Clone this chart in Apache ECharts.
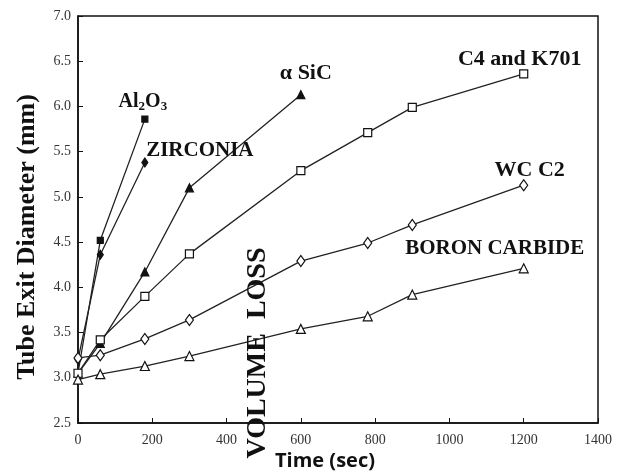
<!DOCTYPE html>
<html>
<head>
<meta charset="utf-8">
<script src="https://cdn.jsdelivr.net/npm/echarts@6/dist/echarts.min.js"></script>
<style>html,body{margin:0;padding:0;background:#fff;}#c{width:622px;height:476px;}</style>
</head>
<body>
<div id="c"></div>
<script>
// ---- data ----
const xTicks = [0, 200, 400, 600, 800, 1000, 1200, 1400];
const yTicks = [2.5, 3.0, 3.5, 4.0, 4.5, 5.0, 5.5, 6.0, 6.5, 7.0];

const al2o3Time = [0, 60, 180];
const al2o3Dia  = [3.05, 4.52, 5.86];

const zirconiaTime = [0, 60, 180];
const zirconiaDia  = [3.20, 4.36, 5.38];

const sicTime = [0, 60, 180, 300, 600];
const sicDia  = [3.05, 3.38, 4.17, 5.10, 6.13];

const c4Time = [0, 60, 180, 300, 600, 780, 900, 1200];
const c4Dia  = [3.05, 3.42, 3.90, 4.37, 5.29, 5.71, 5.99, 6.36];

const wcTime = [0, 60, 180, 300, 600, 780, 900, 1200];
const wcDia  = [3.22, 3.25, 3.43, 3.64, 4.29, 4.49, 4.69, 5.13];

const boronTime = [0, 60, 180, 300, 600, 780, 900, 1200];
const boronDia  = [2.98, 3.04, 3.13, 3.24, 3.54, 3.68, 3.92, 4.21];

const seriesNames = ['Al2O3', 'ZIRCONIA', 'α SiC', 'C4 and K701', 'WC C2', 'BORON CARBIDE'];

// ---- build ----
const serifFont = '"Liberation Serif", "Times New Roman", serif';
function pairs(t, v) { return t.map((x, i) => [x, v[i]]); }

function makeSeries(name, t, v, symbol, size, filled, labelText, offset, labelSize, rich) {
  const data = pairs(t, v).map((p, i, arr) => {
    if (i === arr.length - 1) {
      return {
        value: p,
        label: {
          show: true, position: 'inside', offset: offset,
          formatter: labelText, color: '#111',
          fontFamily: serifFont, fontWeight: 'bold', fontSize: labelSize,
          rich: rich || {}
        }
      };
    }
    return p;
  });
  return {
    name: name, type: 'line', data: data,
    symbol: symbol, symbolSize: size, showSymbol: true,
    lineStyle: { color: '#222', width: 1.3 },
    itemStyle: { color: filled ? '#111' : '#fff', borderColor: '#111', borderWidth: 1.2 },
    label: { show: false },
    emphasis: { disabled: true },
    z: 3
  };
}

const subRich = {
  n: { fontFamily: serifFont, fontWeight: 'bold', fontSize: 20, color: '#111' },
  s: { fontFamily: serifFont, fontWeight: 'bold', fontSize: 13, color: '#111', padding: [10, 0, 0, 0] }
};

const chart = echarts.init(document.getElementById('c'), null, { renderer: 'canvas' });
chart.setOption({
  animation: false,
  backgroundColor: '#fff',
  grid: { left: 78, right: 24, top: 16, bottom: 53, show: true, borderColor: '#111', borderWidth: 1.5, backgroundColor: 'transparent' },
  xAxis: {
    type: 'value', min: xTicks[0], max: xTicks[xTicks.length - 1], interval: 200,
    axisLine: { show: true, lineStyle: { color: '#111', width: 1.5 } },
    axisTick: { show: true, inside: true, length: 5, lineStyle: { color: '#111' } },
    splitLine: { show: false },
    axisLabel: { margin: 10, color: '#333', fontFamily: serifFont, fontSize: 14, formatter: v => String(v) }
  },
  yAxis: {
    type: 'value', min: yTicks[0], max: yTicks[yTicks.length - 1], interval: 0.5,
    axisLine: { show: true, lineStyle: { color: '#111', width: 1.5 } },
    axisTick: { show: true, inside: true, length: 5, lineStyle: { color: '#111' } },
    splitLine: { show: false },
    axisLabel: { margin: 7, color: '#333', fontFamily: serifFont, fontSize: 14, formatter: v => v.toFixed(1) }
  },
  graphic: [{
    type: 'text', x: 258, y: 353, rotation: Math.PI / 2,
    style: { text: 'VOLUME  LOSS', fontFamily: serifFont, fontWeight: 'bold', fontSize: 28, fill: '#111', align: 'center', verticalAlign: 'middle' },
    z: 10
  }, {
    type: 'text', x: 27, y: 237, rotation: Math.PI / 2,
    style: { text: 'Tube Exit Diameter (mm)', fontFamily: serifFont, fontWeight: 'bold', fontSize: 26, fill: '#111', align: 'center', verticalAlign: 'middle' },
    z: 10
  }, {
    type: 'text', x: 325, y: 461,
    style: { text: 'Time (sec)', fontFamily: '"Open Sans", sans-serif', fontWeight: 'bold', fontSize: 20, fill: '#111', align: 'center', verticalAlign: 'middle' },
    z: 10
  }],
  series: [
    makeSeries(seriesNames[0], al2o3Time, al2o3Dia, 'rect', 6, true, '{n|Al}{s|2}{n|O}{s|3}', [-2, -17], 20, subRich),
    makeSeries(seriesNames[1], zirconiaTime, zirconiaDia, 'diamond', [6, 9], true, 'ZIRCONIA', [55, -12], 21),
    makeSeries(seriesNames[2], sicTime, sicDia, 'triangle', 8, true, 'α SiC', [5, -21], 22),
    makeSeries(seriesNames[3], c4Time, c4Dia, 'rect', 8, false, 'C4 and K701', [-4, -15], 22),
    makeSeries(seriesNames[4], wcTime, wcDia, 'diamond', [8, 11], false, 'WC C2', [6, -15], 22),
    makeSeries(seriesNames[5], boronTime, boronDia, 'triangle', 9, false, 'BORON CARBIDE', [-29, -20], 21)
  ]
});
</script>
</body>
</html>
